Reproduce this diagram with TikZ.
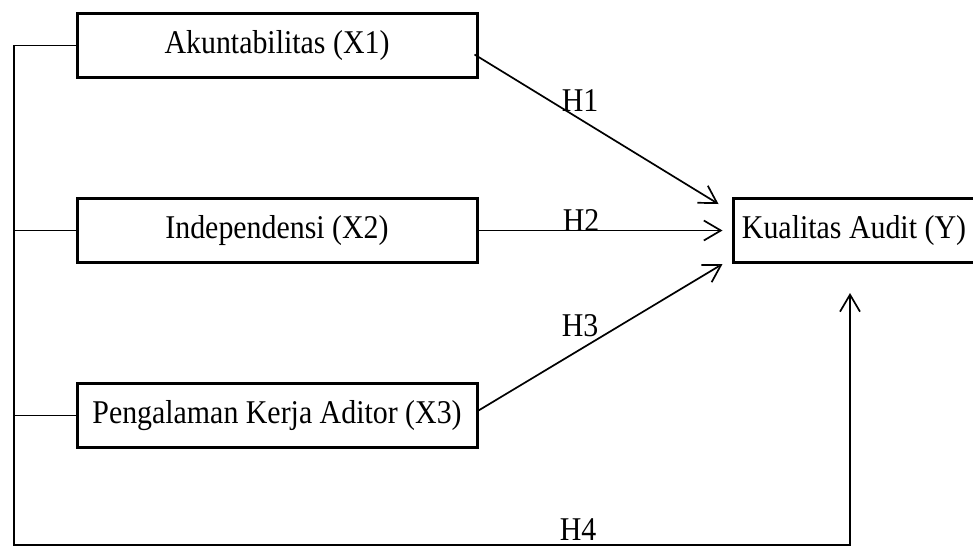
\documentclass[tikz,border=0pt]{standalone}
\usepackage{fontspec}
\setmainfont{Liberation Serif}[FakeStretch=0.9]
\usetikzlibrary{arrows.meta}
\tikzstyle{varbox} = [
    rectangle,
    minimum width=200pt,
    minimum height=32pt,
    inner sep=0pt,
    line width=1.5pt,
    draw=black,
    font=\fontsize{16.6}{20}\selectfont
]
\tikzstyle{outcome} = [
    varbox,
    minimum width=121pt
]
\tikzstyle{hyp} = [
    inner sep=0pt,
    font=\fontsize{16.6}{20}\selectfont
]
\tikzstyle{link} = [line width=0.85pt]
\tikzstyle{arrow} = [link,-{Straight Barb[length=8.5pt,width=10pt,line width=0.85pt]}]

\begin{document}
\begin{tikzpicture}[x=0.5pt,y=-0.5pt,node distance=92.5pt]
\useasboundingbox (0,0) rectangle (973,547);

\node (x1) [varbox] at (277,45.5) {Akuntabilitas (X1)};

\node (x2) [varbox, below of=x1]
{Independensi (X2)};

\node (x3) [varbox, below of=x2]
{Pengalaman Kerja Aditor (X3)};

\node (y) [outcome] at (854,230.5)
{Kualitas Audit (Y)};

\coordinate (bus) at (14,545);
\coordinate (h4end) at (850,293);

\draw [arrow] ([shift={(-4,9)}]x1.east) -- ([shift={(-13,7)}]y.north west);
\draw [arrow] (x2.east) -- ([shift={(-9,0)}]y.west);
\draw [arrow] ([shift={(0,-5)}]x3.east) -- ([shift={(-9,0)}]y.south west);
\draw [arrow] (x1.west) -| (bus) -| (h4end);
\draw [link] (x2.west) -- (x2.west -| bus);
\draw [link] (x3.west) -- (x3.west -| bus);

\node (h1) [hyp] at (580,101) {H1};
\node (h2) [hyp] at (581,221) {H2};
\node (h3) [hyp] at (580,326) {H3};
\node (h4) [hyp] at (578,530) {H4};

\end{tikzpicture}
\end{document}
